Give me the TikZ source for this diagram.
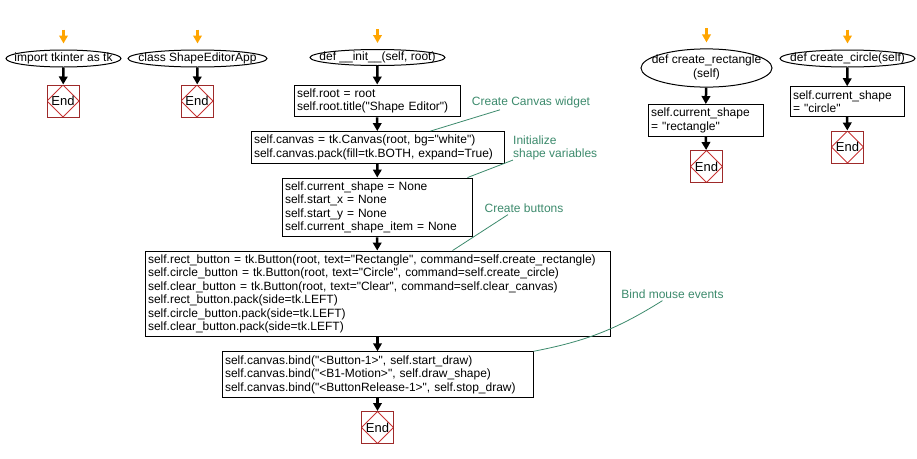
\documentclass[tikz,border=0pt]{standalone}
\usepackage{fontspec}
\setmainfont{Liberation Sans}[Ligatures=TeXOff]
\usepackage{tikz}
\usetikzlibrary{arrows.meta}
\usetikzlibrary{shapes.geometric}
\usepackage{xcolor}
\definecolor{notegreen}{RGB}{60,138,108}
\definecolor{endframe}{RGB}{158,42,42}
\definecolor{enddiamond}{RGB}{200,50,50}
\definecolor{startorange}{RGB}{255,165,0}
\tikzset{
    startnode/.style={
        draw,
        ellipse,
        line width=1pt,
        inner sep=0pt,
        font=\fontsize{12}{13.5}\selectfont
    },
    codebox/.style={
        draw,
        rectangle,
        line width=1pt,
        inner xsep=3pt,
        inner ysep=3.6pt,
        align=left,
        font=\fontsize{12}{13.5}\selectfont
    },
    endnode/.style={
        draw=endframe,
        rectangle,
        line width=1pt,
        minimum size=32pt,
        inner sep=0pt,
        font=\fontsize{13}{14}\selectfont,
        path picture={
            \draw[enddiamond, line width=0.8pt] (path picture bounding box.north) -- (path picture bounding box.east)
              -- (path picture bounding box.south) -- (path picture bounding box.west) -- cycle;
        }
    },
    note/.style={
        text=notegreen,
        inner sep=0pt,
        align=left,
        font=\fontsize{12}{12.5}\selectfont
    },
    noteline/.style={draw=notegreen, line width=0.8pt},
    flow/.style={draw, line width=2.5pt, -{Triangle[length=8pt, width=8.5pt]}},
    startflow/.style={draw=startorange, line width=2.5pt, -{Triangle[length=8pt, width=8.5pt]}, shorten >=6pt}
}

\begin{document}
\begin{tikzpicture}[x=1pt, y=1pt]
  \useasboundingbox (0,0) rectangle (917,-458);

  % module level
  \node[startnode, minimum width=115pt, minimum height=17pt] (imp) at (63.5,-58.5) {\makebox[0pt]{import tkinter as tk}};
  \node[endnode] (end1) at (63,-101) {End};
  \node[startnode, minimum width=139pt, minimum height=17pt] (cls) at (197.5,-58.5) {\makebox[0pt]{class ShapeEditorApp}};
  \node[endnode] (end2) at (197,-101) {End};

  % __init__
  \node[startnode, minimum width=135pt, minimum height=16pt] (init) at (377.5,-57.5) {\makebox[0pt]{def \_\_init\_\_(self, root)}};
  \node[codebox, text width=160pt] (b1) at (377,-101) {self.root = root\\self.root.title("Shape Editor")};
  \node[codebox, text width=247pt] (b2) at (377.5,-147.5) {self.canvas = tk.Canvas(root, bg="white")\\self.canvas.pack(fill=tk.BOTH, expand=True)};
  \node[codebox, text width=184pt] (b3) at (377,-207.5) {self.current\_shape = None\\self.start\_x = None\\self.start\_y = None\\self.current\_shape\_item = None};
  \node[codebox, text width=459pt] (b4) at (377.5,-294) {self.rect\_button = tk.Button(root, text="Rectangle", command=self.create\_rectangle)\\
    self.circle\_button = tk.Button(root, text="Circle", command=self.create\_circle)\\
    self.clear\_button = tk.Button(root, text="Clear", command=self.clear\_canvas)\\
    self.rect\_button.pack(side=tk.LEFT)\\
    self.circle\_button.pack(side=tk.LEFT)\\
    self.clear\_button.pack(side=tk.LEFT)};
  \node[codebox, text width=305pt] (b5) at (377.5,-374.5) {self.canvas.bind("<Button-1>", self.start\_draw)\\
    self.canvas.bind("<B1-Motion>", self.draw\_shape)\\
    self.canvas.bind("<ButtonRelease-1>", self.stop\_draw)};
  \node[endnode] (end3) at (377.5,-427.5) {End};

  % create_rectangle / create_circle
  \node[startnode, minimum width=131pt, minimum height=36pt] (crect) at (706.5,-68) {\makebox[0pt]{\begin{tabular}{@{}c@{}}def create\_rectangle\\(self)\end{tabular}}};
  \node[codebox, text width=109pt] (r1) at (705.5,-120.5) {self.current\_shape\\= "rectangle"};
  \node[endnode] (end4) at (706.5,-166.5) {End};
  \node[startnode, minimum width=135pt, minimum height=17pt] (ccirc) at (847.5,-58.5) {\makebox[0pt]{def create\_circle(self)}};
  \node[codebox, text width=108pt] (c1) at (847,-101.5) {self.current\_shape\\= "circle"};
  \node[endnode] (end5) at (847.5,-147) {End};

  % comments
  \node[note] (n1) at (531,-102) {Create Canvas widget};
  \node[note, anchor=west] (n2) at (513,-148) {Initialize\\shape variables};
  \node[note] (n3) at (524,-208) {Create buttons};
  \node[note] (n4) at (672.5,-294) {Bind mouse events};

  \foreach \s in {imp,cls,init,crect,ccirc}
    \draw[startflow] ([yshift=20pt]\s.north) -- (\s.north);

  \foreach \a/\b in {imp/end1, cls/end2, init/b1, b1/b2, b2/b3, b3/b4, b4/b5, b5/end3, crect/r1, r1/end4, ccirc/c1, c1/end5}
    \draw[flow] (\a) -- (\b);

  \draw[noteline] ([xshift=-31pt, yshift=-2pt]n1.south) -- ([xshift=53pt]b2.north);
  \draw[noteline] (n2.south west) -- ([xshift=-5pt]b3.north east);
  \draw[noteline] ([xshift=-16pt, yshift=-2pt]n3.south) -- ([xshift=75pt]b4.north);
  \draw[noteline] ([xshift=-10pt, yshift=-2pt]n4.south) to[out=212, in=11] (b5.north east);
\end{tikzpicture}
\end{document}
